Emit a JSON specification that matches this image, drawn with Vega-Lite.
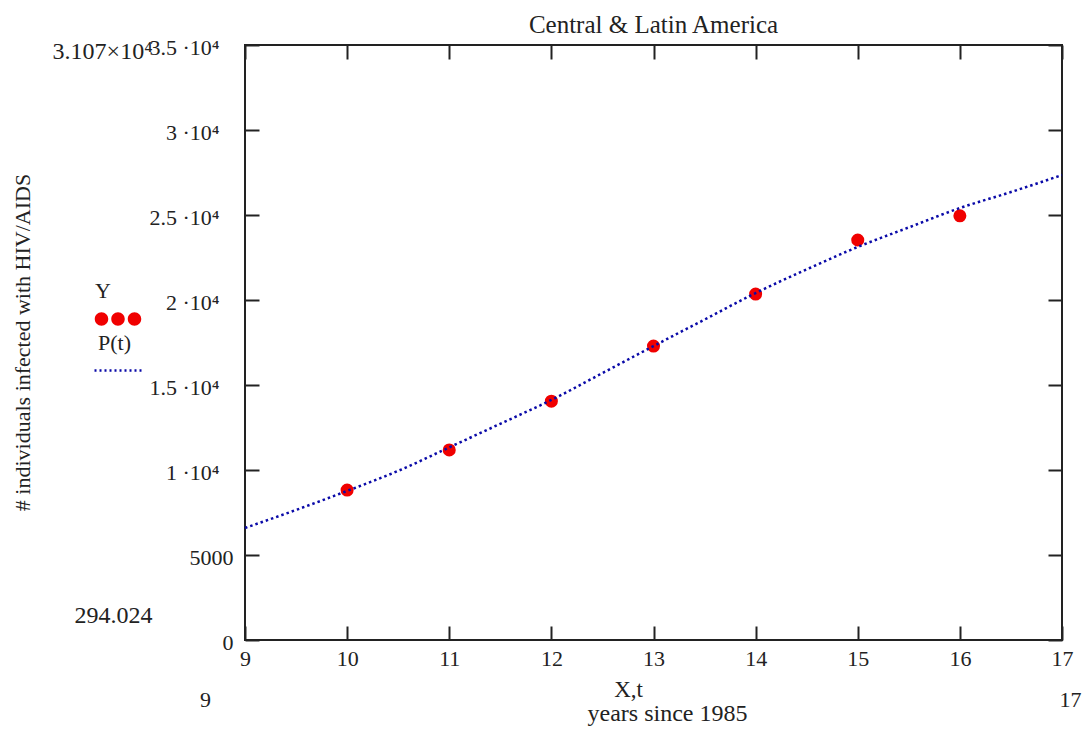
{
  "$schema": "https://vega.github.io/schema/vega-lite/v6.json",
  "width": 817,
  "height": 595,
  "autosize": {"type": "none"},
  "padding": {"left": 245, "top": 45, "right": 21, "bottom": 102},
  "background": "white",
  "title": {
    "text": "Central & Latin America",
    "font": "Liberation Serif",
    "fontSize": 25,
    "fontWeight": "normal",
    "color": "#222",
    "anchor": "middle",
    "offset": -2
  },
  "config": {
    "view": {"stroke": "#222", "strokeWidth": 2},
    "axis": {
      "grid": false,
      "domain": false,
      "tickColor": "#222",
      "tickWidth": 2,
      "labelFont": "Liberation Serif",
      "labelFontSize": 22,
      "labelColor": "#222",
      "titleFont": "Liberation Serif",
      "titleFontWeight": "normal",
      "titleColor": "#222"
    },
    "legend": {
      "labelFont": "Liberation Serif",
      "labelFontSize": 22,
      "labelColor": "#222",
      "symbolSize": 2500,
      "labelOffset": -48,
      "padding": 0,
      "symbolOpacity": 1
    }
  },
  "datasets": {
    "obs": [
      {"t": 10, "v": 8820},
      {"t": 11, "v": 11180},
      {"t": 12, "v": 14050},
      {"t": 13, "v": 17290},
      {"t": 14, "v": 20350},
      {"t": 15, "v": 23530},
      {"t": 16, "v": 24950}
    ],
    "fit": [
      {"t": 9, "v": 6590},
      {"t": 9.5, "v": 7650},
      {"t": 10, "v": 8770},
      {"t": 10.5, "v": 9950},
      {"t": 11, "v": 11330},
      {"t": 11.5, "v": 12720},
      {"t": 12, "v": 14120},
      {"t": 12.5, "v": 15700},
      {"t": 13, "v": 17290},
      {"t": 13.5, "v": 18850},
      {"t": 14, "v": 20410},
      {"t": 14.5, "v": 21800},
      {"t": 15, "v": 23120},
      {"t": 15.5, "v": 24270},
      {"t": 16, "v": 25410},
      {"t": 16.5, "v": 26350},
      {"t": 17, "v": 27350}
    ],
    "extra": [
      {"t": 9, "v": 34590},
      {"t": 17, "v": 1470}
    ],
    "legY": [{"series": "Y"}],
    "legP": [{"series": "P(t)"}]
  },
  "resolve": {"axis": {"x": "independent", "y": "independent"}},
  "layer": [
    {
      "data": {"name": "obs"},
      "mark": {"type": "point", "filled": true, "size": 170, "opacity": 1, "color": "#f00000"},
      "encoding": {
        "x": {
          "field": "t", "type": "quantitative",
          "scale": {"domain": [9, 17], "nice": false, "zero": false},
          "axis": {"orient": "top", "values": [9, 10, 11, 12, 13, 14, 15, 16, 17], "labels": false, "tickSize": -14, "title": null}
        },
        "y": {
          "field": "v", "type": "quantitative",
          "scale": {"domain": [0, 35000], "nice": false},
          "axis": {"orient": "right", "values": [0, 5000, 10000, 15000, 20000, 25000, 30000, 35000], "labels": false, "tickSize": -14, "title": null}
        }
      }
    },
    {
      "data": {"name": "fit"},
      "mark": {"type": "line", "interpolate": "monotone", "strokeWidth": 2.5, "strokeDash": [2.5, 3], "color": "#0a0aa8"},
      "encoding": {
        "x": {
          "field": "t", "type": "quantitative",
          "axis": {
            "orient": "bottom",
            "values": [9, 10, 11, 12, 13, 14, 15, 16, 17],
            "format": "d",
            "tickSize": -14,
            "labelPadding": 22,
            "labelAlign": "center",
            "title": "X,t",
            "titleFontSize": 23,
            "titleX": 383,
            "titleY": 49,
            "titleAlign": "center",
            "titleBaseline": "middle"
          }
        },
        "y": {
          "field": "v", "type": "quantitative",
          "axis": {
            "orient": "left",
            "values": [0, 5000, 10000, 15000, 20000, 25000, 30000, 35000],
            "tickSize": -14,
            "labelPadding": {"condition": {"test": "datum.value > 5000", "value": 40}, "value": 26},
            "labelOffset": 2,
            "labelExpr": "datum.value === 0 ? '0' : datum.value === 5000 ? '5000' : (datum.value / 10000) + ' ·10⁴'",
            "title": "# individuals infected with HIV/AIDS",
            "titleFontSize": 22,
            "titleAngle": -90,
            "titleX": -223,
            "titleY": 297,
            "titleAlign": "center",
            "titleBaseline": "middle"
          }
        }
      }
    },
    {
      "data": {"name": "extra"},
      "mark": {"type": "point", "opacity": 0},
      "encoding": {
        "x": {
          "field": "t", "type": "quantitative",
          "axis": {
            "orient": "bottom",
            "values": [9, 17],
            "format": "d",
            "ticks": false,
            "labelPadding": 49,
            "labelAlign": "center",
            "labelOffset": {"condition": {"test": "datum.value === 9", "value": -40}, "value": 8},
            "title": "years since 1985",
            "titleFontSize": 24,
            "titleX": 422,
            "titleY": 73,
            "titleAlign": "center",
            "titleBaseline": "middle"
          }
        },
        "y": {
          "field": "v", "type": "quantitative",
          "axis": {
            "orient": "left",
            "values": [34590, 1470],
            "ticks": false,
            "labelPadding": 93,
            "labelFontSize": 24,
            "labelExpr": "datum.value > 20000 ? '3.107×10⁴' : '294.024'",
            "title": null
          }
        }
      }
    },
    {
      "data": {"name": "legY"},
      "mark": {"type": "point", "filled": true, "opacity": 0, "color": "#f00000"},
      "encoding": {
        "shape": {
          "field": "series", "type": "nominal",
          "scale": {"domain": ["Y"], "range": ["M-0.93,1.12a0.27,0.27 0 1,0 0.54,0a0.27,0.27 0 1,0 -0.54,0Z M-0.27,1.12a0.27,0.27 0 1,0 0.54,0a0.27,0.27 0 1,0 -0.54,0Z M0.39,1.12a0.27,0.27 0 1,0 0.54,0a0.27,0.27 0 1,0 -0.54,0Z"]},
          "legend": {
            "orient": "none",
            "legendX": -152,
            "legendY": 221,
            "title": null,
            "symbolFillColor": "#f00000",
            "symbolStrokeColor": "transparent",
            "symbolStrokeWidth": 0
          }
        }
      }
    },
    {
      "data": {"name": "legP"},
      "mark": {"type": "line", "opacity": 0, "color": "#0a0aa8"},
      "encoding": {
        "strokeDash": {
          "field": "series", "type": "nominal",
          "scale": {"domain": ["P(t)"], "range": [[2, 3]]},
          "legend": {
            "orient": "none",
            "legendX": -152,
            "legendY": 271,
            "title": null,
            "symbolType": "M-1,1.12L1,1.12",
            "symbolFillColor": "transparent",
            "symbolStrokeColor": "#0a0aa8",
            "symbolStrokeWidth": 2.5
          }
        }
      }
    }
  ]
}
